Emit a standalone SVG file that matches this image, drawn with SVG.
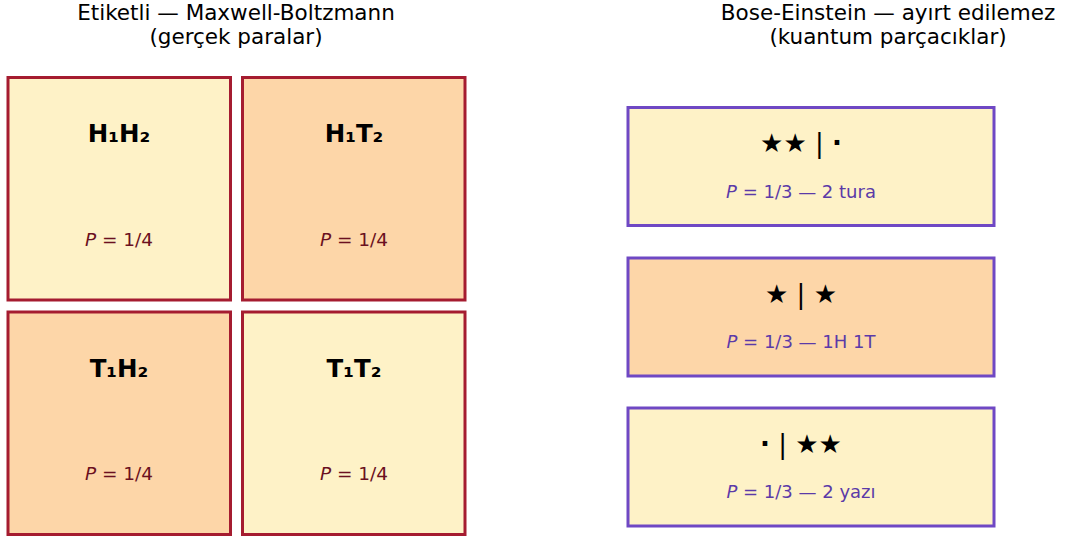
<svg xmlns="http://www.w3.org/2000/svg" width="1065" height="542" viewBox="0 0 1065 542">
<style>
text{font-family:"DejaVu Sans",sans-serif;text-anchor:middle}
.title{font-size:21.5px;fill:#000}
.mb{stroke:#a51c30;stroke-width:3}
.be{stroke:#6f48c4;stroke-width:3}
.y{fill:#fef2c7}
.o{fill:#fdd6a8}
.lab{font-size:24.5px;font-weight:bold;fill:#000}
.pm{font-size:18.5px;fill:#6b1020}
.sym{font-size:26px;fill:#000}
.dot{font-weight:bold}
.pb{font-size:18px;fill:#5b3aa8}
</style>
<rect width="1065" height="542" fill="#fff"/>
<text class="title" x="236" y="19.5">Etiketli — Maxwell-Boltzmann</text>
<text class="title" x="236" y="44">(gerçek paralar)</text>
<text class="title" x="888" y="19.5">Bose-Einstein — ayırt edilemez</text>
<text class="title" x="888" y="44">(kuantum parçacıklar)</text>
<g id="HH"><rect class="mb y" x="8" y="77.5" width="222.5" height="222.5"/><text class="lab" x="119" y="142">H₁H₂</text><text class="pm" x="119" y="245.5"><tspan font-style="italic">P</tspan> = 1/4</text></g>
<g id="HT"><rect class="mb o" x="242.5" y="77.5" width="222.5" height="222.5"/><text class="lab" x="354" y="142">H₁T₂</text><text class="pm" x="354" y="245.5"><tspan font-style="italic">P</tspan> = 1/4</text></g>
<g id="TH"><rect class="mb o" x="8" y="312" width="222.5" height="222.5"/><text class="lab" x="119" y="377">T₁H₂</text><text class="pm" x="119" y="480"><tspan font-style="italic">P</tspan> = 1/4</text></g>
<g id="TT"><rect class="mb y" x="242.5" y="312" width="222.5" height="222.5"/><text class="lab" x="354" y="377">T₁T₂</text><text class="pm" x="354" y="480"><tspan font-style="italic">P</tspan> = 1/4</text></g>
<g id="BE1"><rect class="be y" x="628" y="107.5" width="366" height="118"/><text class="sym" x="801" y="152">★★ | <tspan class="dot">·</tspan></text><text class="pb" x="801" y="197.5"><tspan font-style="italic">P</tspan> = 1/3 — 2 tura</text></g>
<g id="BE2"><rect class="be o" x="628" y="258" width="366" height="118"/><text class="sym" x="801" y="302.5">★ | ★</text><text class="pb" x="801" y="348"><tspan font-style="italic">P</tspan> = 1/3 — 1H 1T</text></g>
<g id="BE3"><rect class="be y" x="628" y="408" width="366" height="118"/><text class="sym" x="801" y="452.5"><tspan class="dot">·</tspan> | ★★</text><text class="pb" x="801" y="498"><tspan font-style="italic">P</tspan> = 1/3 — 2 yazı</text></g>
<g id="connectors"/>
</svg>
